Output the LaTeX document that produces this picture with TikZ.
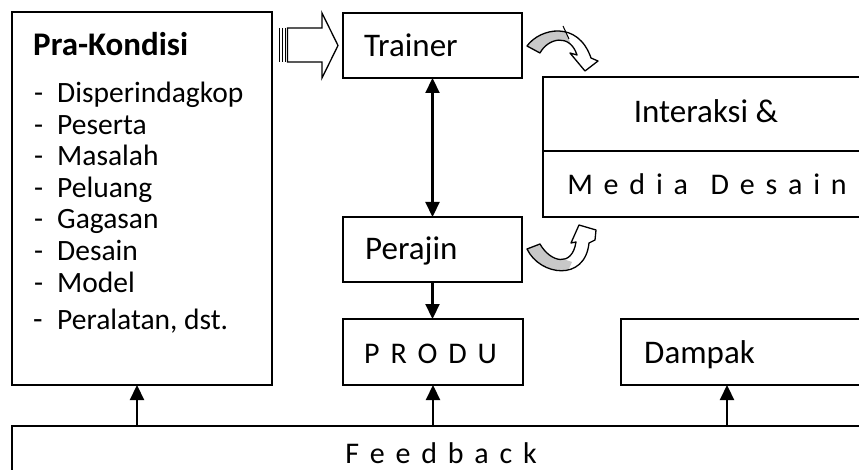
\documentclass[tikz,border=0pt]{standalone}
\usepackage{fontspec}
\setmainfont{Carlito}
\usetikzlibrary{arrows.meta}
\definecolor{bandgray}{HTML}{C8C8C8}
\newcommand{\sptext}[1]{{\spaceskip=0.36em\relax #1}}
\begin{document}
\begin{tikzpicture}[x=1pt,y=-1pt,
  box/.style={draw, line width=2pt, inner sep=0pt, outer sep=0pt},
  lbl/.style={anchor=base west, inner sep=0pt, font=\fontsize{33}{40}\selectfont},
  lblc/.style={anchor=base, inner sep=0pt, font=\fontsize{33}{40}\selectfont},
  spaced/.style={anchor=base, inner sep=0pt, font=\fontsize{30}{36}\selectfont},
  item/.style={anchor=base west, inner sep=0pt, font=\fontsize{29.5}{36}\selectfont},
  arr/.style={-{Triangle[width=14pt,length=15pt]}, line width=2.2pt},
  darr/.style={{Triangle[width=14pt,length=15pt]}-{Triangle[width=14pt,length=15pt]}, line width=2.2pt},
  bent/.style={draw, line width=1.3pt, line join=round},
]
\useasboundingbox (0,0) rectangle (859,470);
\clip (0,0) rectangle (859,470);

% boxes
\node[box, minimum width=260pt, minimum height=373pt] (pra) at (142,198.5) {};
\node[box, minimum width=179pt, minimum height=65pt] (trainer) at (432.5,45.5) {};
\node[box, minimum width=179pt, minimum height=65pt] (perajin) at (432.5,249.5) {};
\node[box, minimum width=180pt, minimum height=66pt] (produ) at (433,352) {};
\node[box, minimum width=259pt, minimum height=66pt] (dampak) at (750.5,352) {};
\node[box, minimum width=337pt, minimum height=140pt] (inter) at (711.5,147) {};
\node[box, minimum width=868pt, minimum height=74pt] (feedback) at (446,463) {};
\draw[line width=2pt] (inter.west |- 0,151) -- (inter.east |- 0,151);

% texts
\node[lbl, font=\fontsize{33}{40}\selectfont\bfseries] (tpra) at (33,56) {Pra-Kondisi};
\foreach \t [count=\i] in {Disperindagkop,Peserta,Masalah,Peluang,Gagasan,Desain,Model}{
  \node[item] (d\i) at (34,{71.5+31.5*\i}) {-};
  \node[item] (i\i) at (57,{71.5+31.5*\i}) {\t};
}
\node[item, font=\fontsize{31}{36}\selectfont] (d8) at (33,329) {-};
\node[item] (i8) at (57,329) {Peralatan, dst.};

\node[lbl] (ttrainer) at (364,57) {Trainer};
\node[lbl] (tperajin) at (365,260) {Perajin};
\node[lblc] (tinter) at (706,123) {Interaksi \&};
\node[spaced] (tmedia) at (707,195) {\sptext{M e d i a\hspace{0.75em}D e s a i n}};
\node[spaced, anchor=base west] (tprodu) at (364,363) {\sptext{P R O D U}};
\node[lbl] (tdampak) at (644,363) {Dampak};
\node[spaced] (tfeed) at (441,463) {\sptext{F e e d b a c k}};

% connectors
\coordinate (xa) at (137,0);
\coordinate (xd) at (727,0);
\draw[darr] (trainer.south) -- (perajin.north);
\draw[arr] (perajin.south) -- (perajin.south |- produ.north);
\draw[arr] (feedback.north -| xa) -- (pra.south -| xa);
\draw[arr] (feedback.north -| produ.south) -- (produ.south);
\draw[arr] (feedback.north -| xd) -- (dampak.south -| xd);

% striped block arrow
\foreach \sx in {279.5,282.5,285.5}{
  \draw[line width=1.8pt] (\sx,28) -- (\sx,62);
}
\draw[line width=1.3pt, line join=miter] (287.5,28) -- (322,28) -- (322,13) -- (338,45.5) -- (322,78) -- (322,62) -- (287.5,62) -- cycle;

% curved arrow (top, pointing down)
\path[fill=white] (527,46) .. controls (540,28) and (578,20) .. (591,58) -- (598,61) -- (585,71) -- (570,53) -- (577,55) .. controls (570,33) and (548,38) .. (540,53) -- cycle;
\begin{scope}
  \clip (500,0) -- (562,0) -- (562,22) -- (570,42) -- (565,100) -- (500,100) -- cycle;
  \fill[bandgray] (527,46) .. controls (540,28) and (578,20) .. (591,58) -- (577,55) .. controls (570,33) and (548,38) .. (540,53) -- cycle;
\end{scope}
\draw[line width=1pt] (563,26) -- (569,39);
\path[bent] (527,46) .. controls (540,28) and (578,20) .. (591,58) -- (598,61) -- (585,71) -- (570,53) -- (577,55) .. controls (570,33) and (548,38) .. (540,53) -- cycle;

% curved arrow (bottom, pointing up)
\path[fill=white] (527,249) .. controls (540,276) and (585,282) .. (589,243) -- (595,240) -- (596,230) -- (579,225) -- (571,243) -- (576,242) .. controls (572,268) and (550,262) .. (540,244) -- cycle;
\begin{scope}
  \clip (500,200) -- (560,200) -- (560,258) -- (572,262) -- (563,282) -- (500,282) -- cycle;
  \fill[bandgray] (527,249) .. controls (540,276) and (585,282) .. (589,243) -- (576,242) .. controls (572,268) and (550,262) .. (540,244) -- cycle;
\end{scope}
\path[bent] (527,249) .. controls (540,276) and (585,282) .. (589,243) -- (595,240) -- (596,230) -- (579,225) -- (571,243) -- (576,242) .. controls (572,268) and (550,262) .. (540,244) -- cycle;
\end{tikzpicture}
\end{document}
